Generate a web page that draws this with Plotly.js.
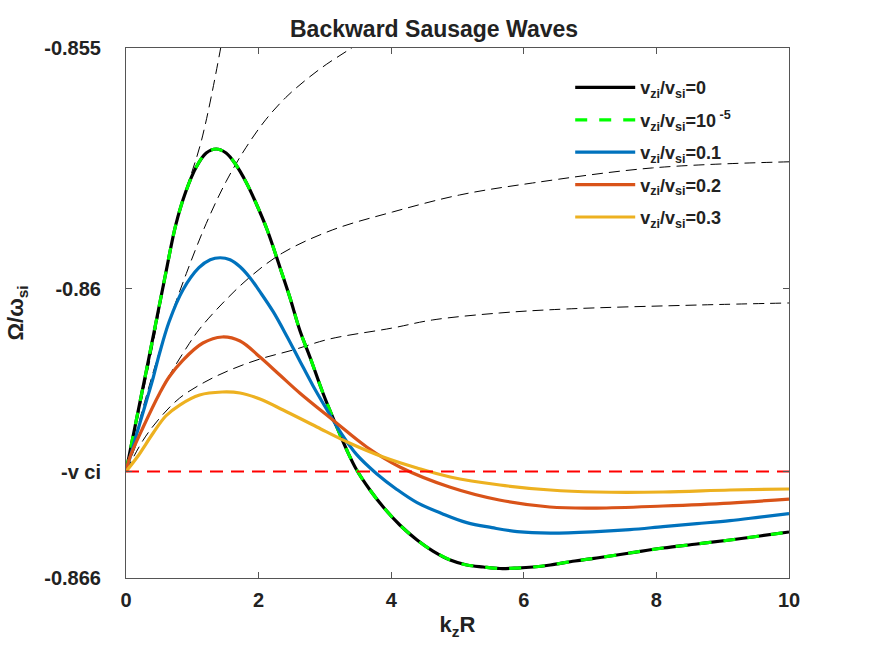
<!DOCTYPE html>
<html>
<head>
<meta charset="utf-8">
<script src="https://cdn.plot.ly/plotly-3.0.1.min.js"></script>
<style>
  body { margin: 0; background: #fff; }
  #chart { width: 872px; height: 654px; }
</style>
</head>
<body>
<div id="chart"></div>
<script>
// reference level -v ci
var vci = -0.86379;

// solid curves (vzi/vsi = 0, 0.1, 0.2, 0.3)
var k0 = [0, 0.15, 0.30, 0.45, 0.60, 0.75, 0.90, 1.06, 1.21, 1.36, 1.51, 1.66, 1.81, 1.96, 2.13, 2.32, 2.47, 2.62, 2.78, 2.97, 3.18, 3.33, 3.48, 3.68, 3.88, 4.13, 4.39, 4.63, 4.89, 5.14, 5.39, 5.64, 5.90, 6.14, 6.40, 6.77, 7.10, 7.60, 8.10, 8.61, 9.11, 9.56, 10];
var w0 = [-0.86379, -0.862762, -0.861745, -0.860708, -0.859670, -0.858674, -0.857989, -0.857470, -0.857179, -0.857096, -0.857179, -0.857428, -0.857781, -0.858217, -0.858777, -0.859545, -0.860168, -0.860853, -0.861434, -0.862160, -0.862866, -0.863344, -0.863759, -0.864174, -0.864527, -0.864900, -0.865211, -0.865440, -0.865627, -0.865730, -0.865772, -0.865803, -0.865793, -0.865772, -0.865730, -0.865647, -0.865585, -0.865481, -0.865378, -0.865294, -0.865211, -0.865128, -0.865045];

var k1 = [0, 0.15, 0.30, 0.41, 0.50, 0.65, 0.86, 1.10, 1.27, 1.42, 1.57, 1.72, 1.87, 2.02, 2.22, 2.43, 2.62, 2.82, 3.03, 3.23, 3.48, 3.78, 4.09, 4.39, 4.77, 5.14, 5.52, 5.90, 6.40, 7.10, 7.60, 8.10, 8.61, 9.11, 9.56, 10];
var w1 = [-0.86379, -0.863067, -0.862362, -0.861843, -0.861366, -0.860681, -0.860017, -0.859560, -0.859394, -0.859353, -0.859394, -0.859539, -0.859767, -0.860058, -0.860473, -0.860992, -0.861490, -0.862009, -0.862507, -0.862963, -0.863440, -0.863835, -0.864167, -0.864436, -0.864665, -0.864851, -0.864955, -0.865038, -0.865069, -0.865038, -0.864997, -0.864934, -0.864872, -0.864810, -0.864737, -0.864665];

var k2 = [0, 0.06, 0.26, 0.51, 0.65, 0.86, 1.16, 1.45, 1.72, 2.02, 2.32, 2.62, 3.12, 3.63, 4.13, 4.88, 5.63, 6.39, 7.10, 8.10, 9.11, 10];
var w2 = [-0.86379, -0.863489, -0.862866, -0.862160, -0.861828, -0.861476, -0.861123, -0.860998, -0.861082, -0.861414, -0.861787, -0.862160, -0.862721, -0.863281, -0.863696, -0.864111, -0.864381, -0.864527, -0.864548, -0.864506, -0.864444, -0.864361];

var k3 = [0, 0.17, 0.41, 0.60, 0.81, 1.11, 1.45, 1.72, 2.02, 2.37, 2.88, 3.37, 3.88, 4.39, 4.89, 5.64, 6.40, 7.10, 8.10, 9.11, 10];
var w3 = [-0.86379, -0.863489, -0.862991, -0.862638, -0.862410, -0.862202, -0.862140, -0.862160, -0.862285, -0.862513, -0.862866, -0.863198, -0.863489, -0.863717, -0.863904, -0.864070, -0.864174, -0.864215, -0.864215, -0.864174, -0.864153];

// thin dashed guide curves
var kA = [0, 0.36, 0.78, 1.14, 1.45];
var wA = [-0.86379, -0.861476, -0.858528, -0.856909, -0.854834];
var kB = [0, 0.30, 0.60, 0.91, 1.21, 1.51, 1.81, 2.11, 2.41, 2.72, 3.02, 3.32, 3.62];
var wB = [-0.86379, -0.862254, -0.860884, -0.859680, -0.858643, -0.857771, -0.857065, -0.856484, -0.856027, -0.855654, -0.855342, -0.855073, -0.854803];
var kC = [0, 0.26, 0.51, 0.92, 1.11, 1.46, 1.87, 2.36, 3.11, 4.02, 5.03, 6.13, 7.94, 10];
var wC = [-0.86379, -0.862866, -0.862140, -0.861206, -0.860832, -0.860293, -0.859753, -0.859255, -0.858778, -0.858404, -0.858051, -0.857802, -0.857489, -0.857362];
var kD = [0, 0.26, 0.51, 0.81, 1.19, 1.57, 2.02, 2.52, 3.07, 4.02, 4.62, 5.63, 6.64, 8.64, 10];
var wD = [-0.86379, -0.863136, -0.862679, -0.862264, -0.861932, -0.861683, -0.861455, -0.861268, -0.861040, -0.860811, -0.860645, -0.860500, -0.860417, -0.860334, -0.860292];

var names = ['v<sub>zi</sub>/v<sub>si</sub>=0', 'v<sub>zi</sub>/v<sub>si</sub>=10<sup> -5</sup>',
             'v<sub>zi</sub>/v<sub>si</sub>=0.1', 'v<sub>zi</sub>/v<sub>si</sub>=0.2', 'v<sub>zi</sub>/v<sub>si</sub>=0.3'];
var yTickVals = [-0.855, -0.86, vci, -0.866];
var yTickText = ['-0.855', '-0.86', '-v ci', '-0.866'];
var xTickVals = [0, 2, 4, 6, 8, 10];

function guide(x, y) {
  return {
    type: 'scatter', x: x, y: y, mode: 'lines', showlegend: false, hoverinfo: 'skip',
    line: { color: '#000', width: 1, dash: '11px,6px', shape: 'spline', smoothing: 1 }
  };
}

function curve(x, y, name, color, dash) {
  return {
    type: 'scatter', x: x, y: y, mode: 'lines', name: name, legendgroup: name,
    line: { color: color, width: 3.2, dash: dash || 'solid', shape: 'spline', smoothing: 1 }
  };
}

var bold = { family: 'Liberation Sans, Arial, sans-serif', color: '#222', weight: 'bold' };

var data = [
  guide(kA, wA), guide(kB, wB), guide(kC, wC), guide(kD, wD),
  curve(k0, w0, names[0], '#000000'),
  curve(k0, w0, names[1], '#00ff00', '12px,12px'),
  curve(k1, w1, names[2], '#0072bd'),
  curve(k2, w2, names[3], '#d95319'),
  curve(k3, w3, names[4], '#edb120'),
  {
    type: 'scatter', x: [0, 10], y: [vci, vci], mode: 'lines', showlegend: false,
    line: { color: '#ff0000', width: 2, dash: '13px,8px' }
  }
];

var axisCommon = {
  showgrid: false, zeroline: false, showline: true, mirror: 'ticks',
  linecolor: '#555', linewidth: 1, ticks: 'inside', ticklen: 6, tickcolor: '#555',
  tickfont: Object.assign({ size: 20 }, bold)
};

var layout = {
  width: 872, height: 654,
  paper_bgcolor: '#fff', plot_bgcolor: '#fff',
  margin: { l: 126, r: 83, t: 48, b: 76 },
  title: {
    text: 'Backward Sausage Waves', x: 0.4646, xref: 'paper', y: 0.955, yanchor: 'middle',
    font: Object.assign({ size: 23 }, bold)
  },
  xaxis: Object.assign({}, axisCommon, {
    range: [0, 10], tickvals: xTickVals, ticklabelstandoff: 4,
    title: { text: 'k<sub>z</sub>R', font: Object.assign({ size: 22 }, bold), standoff: 6 }
  }),
  yaxis: Object.assign({}, axisCommon, {
    range: [-0.866, -0.855], tickvals: yTickVals, ticktext: yTickText, ticklabelstandoff: 20,
    title: { text: 'Ω/ω<sub>si</sub>', font: Object.assign({ size: 22 }, bold), standoff: 14 }
  }),
  showlegend: true,
  legend: {
    x: 0.67, y: 0.96, xanchor: 'left', yanchor: 'top',
    bgcolor: 'rgba(0,0,0,0)', borderwidth: 0,
    font: Object.assign({ size: 18 }, bold),
    tracegroupgap: 6, itemwidth: 60
  }
};

Plotly.newPlot('chart', data, layout, { displayModeBar: false, staticPlot: true });
</script>
</body>
</html>
